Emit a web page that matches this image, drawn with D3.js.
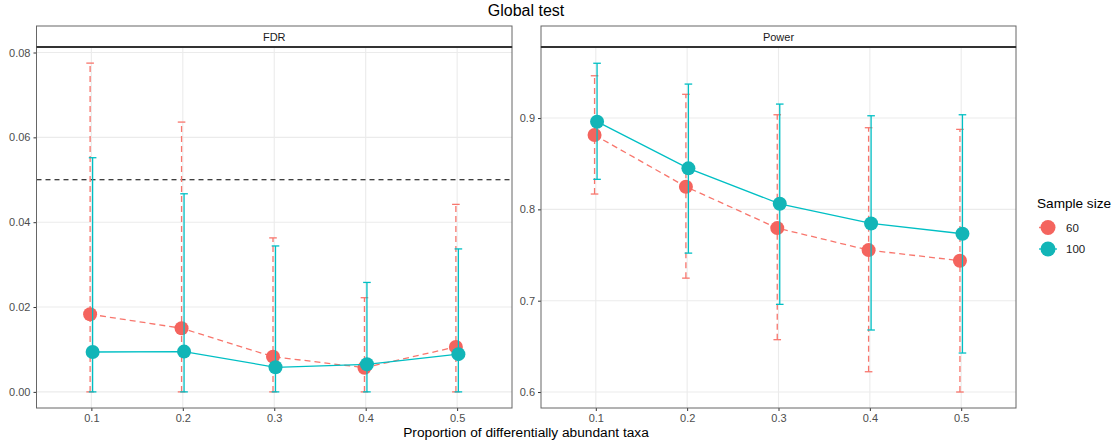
<!DOCTYPE html>
<html>
<head>
<meta charset="utf-8">
<script src="https://cdn.jsdelivr.net/npm/d3@7"></script>
<style>
  body { margin: 0; background: #fff; }
  text { font-family: "Liberation Sans", Arial, sans-serif; }
</style>
</head>
<body>
<script>
// DATOS
var proporciones = [0.1, 0.2, 0.3, 0.4, 0.5]
var tamanos = ["60", "100"]

var fdr60      = [0.0183, 0.0150, 0.0083, 0.0057, 0.0106]
var fdr60Alto  = [0.0775, 0.0636, 0.0363, 0.0222, 0.0442]
var fdr60Bajo  = [0, 0, 0, 0, 0]
var fdr100     = [0.0094, 0.0095, 0.0058, 0.0065, 0.0089]
var fdr100Alto = [0.0552, 0.0467, 0.0344, 0.0258, 0.0337]
var fdr100Bajo = [0, 0, 0, 0, 0]

var pow60      = [0.8814, 0.8248, 0.7795, 0.7554, 0.7438]
var pow60Alto  = [0.9463, 0.9260, 0.9036, 0.8894, 0.8876]
var pow60Bajo  = [0.8168, 0.7247, 0.6573, 0.6222, 0.6000]
var pow100     = [0.8960, 0.8449, 0.8061, 0.7846, 0.7733]
var pow100Alto = [0.9600, 0.9372, 0.9153, 0.9025, 0.9036]
var pow100Bajo = [0.8329, 0.7521, 0.6960, 0.6679, 0.6427]

var fdrTicks = [0, 0.02, 0.04, 0.06, 0.08]
var powTicks = [0.6, 0.7, 0.8, 0.9]

var escalaColor = d3.scaleOrdinal().domain(tamanos).range(["#F8766D", "#00BFC4"])
var colorPunto = d3.scaleOrdinal().domain(tamanos).range(["#F4645E", "#12B5B7"])
var dash = { "60": "6,4", "100": null }
var dodge = { "60": -1.25, "100": 1.25 }

var svg = d3.select("body").append("svg")
    .attr("width", 1117).attr("height", 446)

// TITULO
svg.append("text").attr("x", 526).attr("y", 16).attr("text-anchor", "middle")
    .style("font-size", "16px").text("Global test")

svg.append("text").attr("x", 526).attr("y", 437).attr("text-anchor", "middle")
    .style("font-size", "13.7px").text("Proportion of differentially abundant taxa")

function serie(vals, alto, bajo) {
    return proporciones.map((p, i) => ({ x: p, y: vals[i], hi: alto[i], lo: bajo[i] }))
}

var paneles = [
  { nombre: "FDR", x0: 36.5, x1: 512, dom: [-0.0038, 0.0813], ticks: fdrTicks, fmt: d3.format(".2f"),
    series: { "60": serie(fdr60, fdr60Alto, fdr60Bajo), "100": serie(fdr100, fdr100Alto, fdr100Bajo) }, ref: 0.05 },
  { nombre: "Power", x0: 541, x1: 1016, dom: [0.5825, 0.9778], ticks: powTicks, fmt: d3.format(".1f"),
    series: { "60": serie(pow60, pow60Alto, pow60Bajo), "100": serie(pow100, pow100Alto, pow100Bajo) } }
]

var yArriba = 47, yAbajo = 408

paneles.forEach(p => {
    var x = d3.scaleLinear().domain([0.04, 0.56]).range([p.x0, p.x1])
    var y = d3.scaleLinear().domain(p.dom).range([yAbajo, yArriba])
    var g = svg.append("g")

    // rejilla
    g.selectAll(".gy").data(p.ticks).enter().append("line")
        .attr("x1", p.x0).attr("x2", p.x1)
        .attr("y1", d => y(d)).attr("y2", d => y(d))
        .style("stroke", "#EBEBEB").style("stroke-width", 1.1)
    g.selectAll(".gx").data(proporciones).enter().append("line")
        .attr("x1", d => x(d)).attr("x2", d => x(d))
        .attr("y1", yArriba).attr("y2", yAbajo)
        .style("stroke", "#EBEBEB").style("stroke-width", 1.1)

    if (p.ref !== undefined) {
        g.append("line").attr("x1", p.x0).attr("x2", p.x1)
            .attr("y1", y(p.ref)).attr("y2", y(p.ref))
            .style("stroke", "#000").style("stroke-width", 1.1).style("stroke-dasharray", "5,4")
    }

    // ejes
    var ejeY = g.append("g").attr("transform", "translate(" + p.x0 + ",0)")
        .call(d3.axisLeft(y).tickValues(p.ticks).tickFormat(p.fmt).tickSize(3).tickPadding(3))
    var ejeX = g.append("g").attr("transform", "translate(0," + yAbajo + ")")
        .call(d3.axisBottom(x).tickValues(proporciones).tickFormat(d3.format(".1f")).tickSize(3).tickPadding(3))
    ;[ejeY, ejeX].forEach(e => {
        e.select(".domain").remove()
        e.selectAll("line").style("stroke", "#333")
        e.selectAll("text").style("font-size", "11px").style("fill", "#4D4D4D")
            .style("font-family", "Liberation Sans, Arial, sans-serif")
    })

    // series
    tamanos.forEach(t => {
        var d = p.series[t]
        var c = escalaColor(t)
        var gs = g.append("g")
        var px = v => x(v) + dodge[t]

        gs.selectAll(".eb").data(d).enter().append("line")
            .attr("x1", v => px(v.x)).attr("x2", v => px(v.x))
            .attr("y1", v => y(v.lo)).attr("y2", v => y(v.hi))
            .style("stroke", c).style("stroke-width", 1.3).style("stroke-dasharray", dash[t])
        ;["hi", "lo"].forEach(k => {
            gs.selectAll(".cap" + k).data(d).enter().append("line")
                .attr("x1", v => px(v.x) - 3.8).attr("x2", v => px(v.x) + 3.8)
                .attr("y1", v => y(v[k])).attr("y2", v => y(v[k]))
                .style("stroke", c).style("stroke-width", 1.3)
        })

        gs.append("path").datum(d)
            .attr("d", d3.line().x(v => px(v.x)).y(v => y(v.y)))
            .style("fill", "none").style("stroke", c).style("stroke-width", 1.3)
            .style("stroke-dasharray", dash[t])

        gs.selectAll("circle").data(d).enter().append("circle")
            .attr("cx", v => px(v.x)).attr("cy", v => y(v.y)).attr("r", 7)
            .attr("fill", colorPunto(t))
    })

    // borde panel
    g.append("rect").attr("x", p.x0).attr("y", yArriba).attr("width", p.x1 - p.x0).attr("height", yAbajo - yArriba)
        .style("fill", "none").style("stroke", "#666").style("stroke-width", 1)

    // tira
    g.append("rect").attr("x", p.x0).attr("y", 26).attr("width", p.x1 - p.x0).attr("height", yArriba - 26)
        .style("fill", "#fff").style("stroke", "#666").style("stroke-width", 1)
    g.append("line").attr("x1", p.x0).attr("x2", p.x1).attr("y1", yArriba).attr("y2", yArriba)
        .style("stroke", "#333").style("stroke-width", 2)
    g.append("text").attr("x", (p.x0 + p.x1) / 2).attr("y", 41).attr("text-anchor", "middle")
        .style("font-size", "11px").style("fill", "#1A1A1A").text(p.nombre)
})

// LEYENDA
var leg = svg.append("g")
leg.append("text").attr("x", 1037).attr("y", 208).style("font-size", "13.6px").text("Sample size")
leg.selectAll(".it").data(tamanos).enter().append("g")
    .attr("transform", (d, i) => "translate(0," + (227.5 + i * 21.5) + ")")
    .each(function(d) {
        var s = d3.select(this)
        s.append("line").attr("x1", 1039).attr("x2", 1057).attr("y1", 0).attr("y2", 0)
            .style("stroke", escalaColor(d)).style("stroke-width", 1.3).style("stroke-dasharray", dash[d])
        s.append("circle").attr("cx", 1048).attr("cy", 0).attr("r", 7.5).attr("fill", colorPunto(d))
        s.append("text").attr("x", 1066).attr("y", 4).style("font-size", "11.5px").style("fill", "#1A1A1A").text(d)
    })
</script>
</body>
</html>
